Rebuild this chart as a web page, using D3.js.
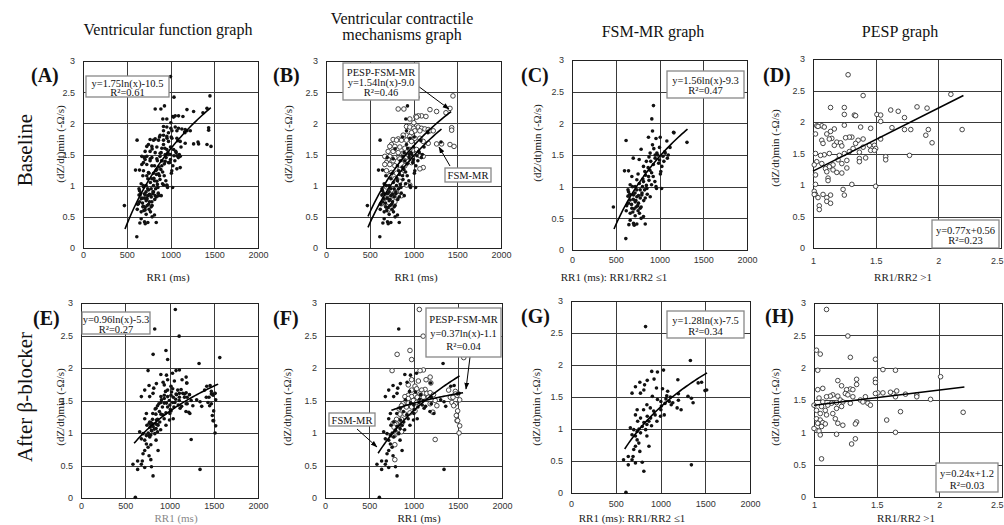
<!DOCTYPE html>
<html><head><meta charset="utf-8">
<script src="https://cdn.jsdelivr.net/npm/d3@7"></script>
<style>body{margin:0;background:#fff}svg{display:block}</style>
</head><body><svg id="c" width="1004" height="525"></svg>
<script>
// ---------------- DATA ----------------
const rr1Ticks = [0, 500, 1000, 1500, 2000];
const ratioTicks = [1, 1.5, 2, 2.5];
const dzTicks = [0, 0.5, 1, 1.5, 2, 2.5, 3];
const colTitles = ["Ventricular function graph", "Ventricular contractile|mechanisms graph", "FSM-MR graph", "PESP graph"];
const rowTitles = ["Baseline", "After β-blocker"];
const yLabel = "(dZ/dt)min (-Ω/s)";

// Baseline, FSM-MR beats (RR1/RR2 <= 1): [RR1 ms, (dZ/dt)min]
const baseFsm = [[931,2.28],[912,2.07],[618,1.73],[920,1.88],[874,1.78],[1008,1.78],[1161,1.86],[1314,1.70],[1084,1.72],[790,1.59],[920,1.66],[1000,1.62],[893,1.53],[950,1.50],[970,1.53],[1065,1.53],[1027,1.32],[1015,1.24],[990,1.37],[768,1.43],[817,1.32],[646,1.25],[832,1.24],[890,1.26],[928,1.16],[947,1.08],[909,1.03],[1024,0.97],[966,0.97],[684,1.16],[741,1.11],[817,1.08],[875,1.16],[665,1.03],[722,1.00],[779,0.95],[856,0.97],[646,0.92],[703,0.87],[741,0.84],[798,0.87],[894,0.84],[665,0.79],[722,0.76],[760,0.74],[837,0.82],[473,0.68],[646,0.74],[684,0.66],[733,0.68],[779,0.66],[665,0.58],[722,0.54],[771,0.58],[817,0.53],[703,0.42],[741,0.41],[837,0.41],[615,0.18],[711,0.39],[620,0.62],[640,0.95],[660,0.88],[680,0.72],[690,1.00],[700,0.80],[710,0.65],[720,0.90],[730,0.78],[740,0.95],[750,0.70],[760,0.86],[770,1.05],[780,0.82],[790,0.68],[800,0.90],[810,1.12],[820,0.78],[830,0.95],[840,1.18],[850,1.02],[860,0.88],[870,1.30],[880,1.10],[900,1.40],[910,1.22],[930,1.35],[950,1.45],[960,1.00],[980,1.50],[1000,1.42],[1040,1.48],[1060,1.55],[1100,1.50],[1120,1.62],[1050,1.40],[1010,1.20],[600,1.25],[625,0.70],[650,0.40],[665,0.47],[695,0.60],[755,0.62],[790,0.50],[700,1.45],[640,0.85],[755,1.20],[805,1.00],[850,1.40],[880,1.47],[935,1.60],[960,1.76],[1090,1.45],[1165,1.85]];

// Baseline, PESP beats (RR1/RR2 > 1): [RR1 ms, RR1/RR2, (dZ/dt)min]
const basePesp = [[1000,1.28,2.75],[1451,2.10,2.44],[1040,1.40,2.42],[1417,1.83,2.24],[825,1.14,2.23],[890,1.25,2.23],[1188,1.91,2.22],[1264,1.62,2.19],[1371,1.68,2.17],[1092,1.51,2.12],[1054,1.25,2.12],[1027,1.33,2.11],[1142,1.54,2.11],[1035,1.34,2.10],[958,1.73,2.07],[1004,1.54,2.01],[920,1.25,1.95],[958,1.07,1.94],[1054,1.03,1.94],[1436,1.04,1.93],[1092,1.09,1.92],[1004,1.38,1.92],[1130,1.63,1.91],[1168,1.46,1.90],[1436,1.17,1.89],[1188,1.73,1.88],[1226,1.78,1.88],[1016,1.92,1.88],[1073,2.19,1.88],[977,1.14,1.85],[920,1.02,1.81],[882,1.11,1.81],[958,1.90,1.79],[1016,1.31,1.76],[1073,1.29,1.76],[825,1.26,1.75],[767,1.15,1.74],[806,1.13,1.73],[863,1.40,1.73],[920,1.54,1.73],[977,1.07,1.71],[1111,1.36,1.71],[1168,1.19,1.68],[1264,1.22,1.67],[1321,1.95,1.67],[748,1.08,1.66],[1417,1.34,1.66],[1463,1.17,1.63],[729,1.45,1.63],[787,1.49,1.63],[844,1.23,1.62],[901,1.40,1.60],[958,1.50,1.58],[1035,1.32,1.58],[710,1.46,1.55],[767,1.49,1.55],[825,1.29,1.53],[882,1.37,1.52],[939,1.25,1.50],[977,1.13,1.50],[1000,1.02,1.50],[1073,1.09,1.48],[672,1.21,1.47],[1111,1.06,1.47],[729,1.77,1.47],[787,1.58,1.45],[844,1.42,1.43],[710,1.37,1.42],[767,1.20,1.40],[901,1.58,1.40],[939,1.27,1.39],[691,1.03,1.37],[977,1.37,1.37],[672,1.07,1.34],[729,1.23,1.34],[787,1.01,1.32],[901,1.16,1.32],[1111,1.13,1.29],[1073,1.27,1.27],[844,1.10,1.26],[691,1.16,1.24],[748,1.11,1.21],[806,1.19,1.20],[863,1.23,1.19],[729,1.02,1.16],[787,1.12,1.11],[844,1.12,1.07],[958,1.02,1.01],[920,1.31,1.01],[691,1.50,0.98],[748,1.24,0.93],[806,1.01,0.90],[863,1.25,0.84],[653,1.02,0.85],[710,1.01,0.85],[767,1.08,0.85],[825,1.14,0.84],[672,1.04,0.80],[729,1.11,0.80],[787,1.11,0.74],[634,1.14,0.71],[691,1.05,0.67],[710,1.05,0.61]];

// After beta-blocker, FSM-MR beats: [RR1 ms, (dZ/dt)min]
const betaFsm = [[833,2.60],[1334,2.07],[902,1.90],[966,1.89],[1034,1.92],[928,1.78],[852,1.76],[769,1.73],[822,1.69],[720,1.66],[682,1.56],[776,1.56],[814,1.61],[1194,1.77],[1080,1.59],[1023,1.63],[955,1.64],[909,1.51],[966,1.46],[1004,1.43],[1061,1.47],[1099,1.43],[1137,1.41],[1186,1.33],[1307,1.51],[1345,1.48],[1421,1.72],[1459,1.73],[1497,1.60],[1516,1.61],[1364,1.41],[848,1.38],[886,1.33],[811,1.30],[739,1.30],[924,1.28],[1004,1.30],[1042,1.22],[852,1.20],[890,1.17],[777,1.17],[815,1.10],[848,1.07],[720,1.22],[663,1.02],[701,0.99],[739,0.96],[777,0.94],[796,1.04],[834,0.99],[720,0.89],[739,0.83],[758,0.78],[720,0.73],[701,0.68],[769,0.65],[848,0.89],[871,0.73],[587,0.52],[640,0.57],[682,0.52],[720,0.47],[796,0.48],[640,0.44],[814,0.34],[1345,0.44],[614,0.01],[682,0.91],[693,0.57],[1050,1.40],[1070,1.52],[1010,1.36],[940,1.22],[870,1.12],[760,1.00],[745,1.12],[1000,1.20],[1110,1.50],[1200,1.55],[1230,1.30],[1120,1.38],[960,1.12],[900,1.05],[1200,1.45]];

// After beta-blocker, PESP beats: [RR1 ms, RR1/RR2, (dZ/dt)min]
const betaPesp = [[1066,1.10,2.90],[1109,1.27,2.49],[960,1.02,2.27],[815,1.05,2.21],[1568,1.29,2.16],[979,1.49,2.13],[1188,2.01,1.86],[758,1.03,1.96],[1112,1.55,1.97],[1074,1.65,1.96],[1142,1.49,1.82],[979,1.34,1.82],[1055,1.19,1.80],[1196,1.49,1.77],[941,1.34,1.74],[1017,1.22,1.72],[1036,1.07,1.68],[1131,1.29,1.67],[979,1.03,1.66],[1093,1.26,1.66],[1397,1.31,1.66],[1473,1.66,1.64],[1169,1.63,1.60],[1112,1.55,1.61],[1150,1.51,1.61],[1188,1.61,1.62],[1473,1.49,1.60],[1074,1.25,1.60],[1226,1.73,1.59],[1017,1.82,1.58],[941,1.27,1.58],[1492,1.15,1.58],[979,1.19,1.56],[903,1.13,1.56],[1416,1.31,1.55],[1043,1.41,1.55],[1112,1.10,1.55],[1169,1.65,1.55],[1446,1.82,1.55],[941,1.04,1.53],[1522,1.93,1.51],[1245,1.21,1.50],[998,1.37,1.50],[903,1.07,1.47],[1036,1.23,1.47],[1435,1.39,1.47],[941,1.18,1.46],[1188,1.14,1.45],[880,1.29,1.45],[1473,1.43,1.45],[1264,1.11,1.42],[1454,1.45,1.42],[865,1.00,1.42],[979,1.22,1.40],[920,1.06,1.40],[838,1.18,1.37],[1017,1.02,1.34],[1499,1.09,1.34],[1218,1.69,1.32],[960,2.19,1.31],[903,1.15,1.29],[846,1.05,1.29],[1484,1.10,1.27],[808,1.02,1.21],[865,1.17,1.21],[1492,1.05,1.19],[1499,1.58,1.19],[789,1.34,1.16],[770,1.07,1.15],[846,1.19,1.14],[808,1.03,1.14],[865,1.33,1.13],[789,1.09,1.13],[1522,1.23,1.11],[780,1.06,1.09],[800,1.02,1.03],[865,1.04,1.02],[830,1.00,1.06],[1515,1.65,1.00],[789,1.18,0.97],[770,1.05,0.96],[1245,1.33,0.90],[789,1.30,0.82],[789,1.06,0.59]];

// Regression fits y = a*ln(x) + b over [xStart, xEnd]
const fitBaseAll  = [1.75, -10.5, 480, 1460];
const fitBaseFsm  = [1.56, -9.3, 480, 1320];
const fitBasePesp = [1.54, -9.0, 480, 1430];
const fitBetaAll  = [0.96, -5.3, 600, 1550];
const fitBetaFsm  = [1.28, -7.5, 600, 1520];
const fitBetaPesp = [0.37, -1.1, 750, 1560];
// Linear fits (PESP graphs), endpoints as drawn
const lineBasePesp = [[1.0, 1.22], [2.2, 2.42]];
const lineBetaPesp = [[1.0, 1.42], [2.2, 1.70]];

// ---------------- DRAW ----------------
const svg = d3.select('#c');
const serif = "'Liberation Serif','Times New Roman',serif";
const sans = "'Liberation Sans',Arial,sans-serif";

svg.append('defs').append('marker').attr('id','ah').attr('viewBox','0 0 10 10')
  .attr('refX',9).attr('refY',5).attr('markerWidth',7).attr('markerHeight',7)
  .attr('orient','auto').append('path').attr('d','M0,1.5 L10,5 L0,8.5 Z').attr('fill','#000');

const rr = d => [d[0], d[d.length-1]];
const ratio = d => [d[1], d[2]];
const px = v => Math.round(v) + 0.5;

function logCurve(f) {
  const n = 40;
  return d3.range(n+1).map(i => { const v = f[2] + (f[3]-f[2])*i/n; return [v, f[0]*Math.log(v)+f[1]]; });
}

const panels = [
 {L:83,R:258,T:61,B:248, xd:[0,2000], xt:rr1Ticks, letter:'(A)', lx:31, ly:82, ylx:60, yly:144, tOff:10,
  xlab:'RR1 (ms)', xlx:168, xly:281, filled: baseFsm.concat(basePesp.map(rr)), open:[],
  fits:[logCurve(fitBaseAll)],
  boxes:[{x:86,y:76,w:83,h:21,lines:['y=1.75ln(x)-10.5','R²=0.61'],ty:[86.5,95.5]}], arrows:[]},
 {L:326,R:501,T:61,B:248, xd:[0,2000], xt:rr1Ticks, letter:'(B)', lx:273, ly:82, ylx:288, yly:144, tOff:10,
  xlab:'RR1 (ms)', xlx:416, xly:281, filled: baseFsm, open: basePesp.map(rr),
  fits:[logCurve(fitBaseFsm), logCurve(fitBasePesp)],
  boxes:[{x:343,y:63,w:76,h:37,lines:['PESP-FSM-MR','y=1.54ln(x)-9.0','R²=0.46'],ty:[76,86,96]},
         {x:445,y:168,w:46,h:14,lines:['FSM-MR'],ty:[179]}],
  arrows:[[418,86,449,109],[450,166,439,147]]},
 {L:572,R:747,T:60,B:250, xd:[0,2000], xt:rr1Ticks, letter:'(C)', lx:521, ly:82, ylx:537, yly:143, tOff:13,
  xlab:'RR1 (ms): RR1/RR2 ≤1', xlx:614, xly:281, filled: baseFsm, open:[],
  fits:[logCurve(fitBaseFsm)],
  boxes:[{x:667,y:71,w:77,h:27,lines:['y=1.56ln(x)-9.3','R²=0.47'],ty:[83.5,94]}], arrows:[]},
 {L:813,R:1001,T:59,B:248, xd:[1,2.5], xt:ratioTicks, letter:'(D)', lx:763, ly:82, ylx:775, yly:148, tOff:16,
  xlab:'RR1/RR2 >1', xlx:903, xly:281, filled:[], open: basePesp.map(ratio),
  fits:[lineBasePesp],
  boxes:[{x:932,y:220,w:67,h:28,lines:['y=0.77x+0.56','R²=0.23'],ty:[233.5,243.5]}], arrows:[]},
 {L:81,R:258,T:303,B:498, xd:[0,2000], xt:rr1Ticks, letter:'(E)', lx:33, ly:325, ylx:60, yly:407, tOff:11,
  xlab:'RR1 (ms)', xlx:176, xly:522, xcol:'#888', filled: betaFsm.concat(betaPesp.map(rr)), open:[],
  fits:[logCurve(fitBetaAll)],
  boxes:[{x:82,y:312,w:68,h:22,lines:['y=0.96ln(x)-5.3','R²=0.27'],ty:[323,332.5]}], arrows:[]},
 {L:325,R:502,T:303,B:498, xd:[0,2000], xt:rr1Ticks, letter:'(F)', lx:273, ly:325, ylx:287, yly:407, tOff:11,
  xlab:'RR1 (ms)', xlx:419, xly:522, filled: betaFsm, open: betaPesp.map(rr),
  fits:[logCurve(fitBetaFsm), logCurve(fitBetaPesp)],
  boxes:[{x:426,y:308,w:75,h:49,lines:['PESP-FSM-MR','y=0.37ln(x)-1.1','R²=0.04'],ty:[323,337,350]},
         {x:329,y:413,w:46,h:13,lines:['FSM-MR'],ty:[423.5]}],
  arrows:[[470,357,466,389],[357,429,377,447]]},
 {L:571,R:750,T:301,B:493, xd:[0,2000], xt:rr1Ticks, letter:'(G)', lx:521, ly:323, ylx:536, yly:407, tOff:14,
  xlab:'RR1 (ms): RR1/RR2 ≤1', xlx:632, xly:522, filled: betaFsm, open:[],
  fits:[logCurve(fitBetaFsm)],
  boxes:[{x:667,y:311,w:77,h:27,lines:['y=1.28ln(x)-7.5','R²=0.34'],ty:[323.5,334.5]}], arrows:[]},
 {L:814,R:1002,T:303,B:497, xd:[1,2.5], xt:ratioTicks, letter:'(H)', lx:765, ly:323, ylx:775, yly:407, tOff:11,
  xlab:'RR1/RR2 >1', xlx:906, xly:522, filled:[], open: betaPesp.map(ratio),
  fits:[lineBetaPesp],
  boxes:[{x:936,y:463,w:62,h:29,lines:['y=0.24x+1.2','R²=0.03'],ty:[477,488.5]}], arrows:[]}
];

panels.forEach(p => {
  const x = d3.scaleLinear().domain(p.xd).range([p.L, p.R]);
  const y = d3.scaleLinear().domain([0, 3]).range([p.B, p.T]);
  const g = svg.append('g');
  // grid
  g.selectAll('.vg').data(p.xt.filter(v => v > p.xd[0] && v < p.xd[1])).join('line')
    .attr('x1', d => px(x(d))).attr('x2', d => px(x(d))).attr('y1', p.T).attr('y2', p.B)
    .attr('stroke', '#3a3a3a').attr('stroke-width', 1).attr('shape-rendering', 'crispEdges');
  g.selectAll('.hg').data(dzTicks.filter(v => v > 0 && v < 3)).join('line')
    .attr('x1', p.L).attr('x2', p.R).attr('y1', d => px(y(d))).attr('y2', d => px(y(d)))
    .attr('stroke', '#3a3a3a').attr('stroke-width', 1).attr('shape-rendering', 'crispEdges');
  g.append('rect').attr('x', px(p.L)).attr('y', px(p.T)).attr('width', Math.round(p.R - p.L)).attr('height', Math.round(p.B - p.T))
    .attr('fill', 'none').attr('stroke', '#222').attr('stroke-width', 1).attr('shape-rendering', 'crispEdges');

  // axes (labels only)
  const ax = g.append('g').attr('transform', `translate(0,${p.B + p.tOff - 9})`)
    .call(d3.axisBottom(x).tickValues(p.xt).tickSize(0).tickPadding(3).tickFormat(d => String(d)));
  const ay = g.append('g').attr('transform', `translate(${p.L},0)`)
    .call(d3.axisLeft(y).tickValues(dzTicks).tickSize(0).tickPadding(8).tickFormat(d => String(d)));
  [ax, ay].forEach(a => {
    a.select('.domain').remove();
    a.selectAll('text').attr('font-family', sans).attr('font-size', 9).attr('fill', '#333');
  });
  // keep a label that would sit on the window edge fully inside it
  ax.selectAll('.tick').filter(d => x(d) > 995).select('text')
    .attr('text-anchor', 'end').attr('x', 1003 - x(p.xd[1]));

  // points
  g.selectAll('.op').data(p.open).join('circle')
    .attr('cx', d => x(d[0])).attr('cy', d => y(d[1])).attr('r', 2.3)
    .attr('fill', '#fff').attr('stroke', '#333').attr('stroke-width', 0.9);
  g.selectAll('.fp').data(p.filled).join('circle')
    .attr('cx', d => x(d[0])).attr('cy', d => y(d[1])).attr('r', 1.8).attr('fill', '#111');

  // fits
  const line = d3.line().x(d => x(d[0])).y(d => y(d[1]));
  p.fits.forEach(f => g.append('path').attr('d', line(f)).attr('fill', 'none')
    .attr('stroke', '#000').attr('stroke-width', 1.6));

  // arrows
  p.arrows.forEach(a => g.append('line').attr('x1', a[0]).attr('y1', a[1]).attr('x2', a[2]).attr('y2', a[3])
    .attr('stroke', '#000').attr('stroke-width', 1).attr('marker-end', 'url(#ah)'));

  // boxes
  p.boxes.forEach(b => {
    g.append('rect').attr('x', b.x).attr('y', b.y).attr('width', b.w).attr('height', b.h)
      .attr('fill', '#fff').attr('stroke', '#888').attr('stroke-width', 1.3);
    b.lines.forEach((t, i) => g.append('text').attr('x', b.x + b.w / 2).attr('y', b.ty[i])
      .attr('text-anchor', 'middle').attr('font-family', serif).attr('font-size', 10.5).attr('fill', '#111').text(t));
  });

  // letter
  g.append('text').attr('x', p.lx).attr('y', p.ly).attr('font-family', serif).attr('font-weight', 'bold')
    .attr('font-size', 20).attr('fill', '#111').text(p.letter);
  // y label
  g.append('text').attr('transform', `translate(${p.ylx},${p.yly}) rotate(-90)`)
    .attr('text-anchor', 'middle').attr('dominant-baseline', 'central')
    .attr('font-family', serif).attr('font-size', 11).attr('fill', '#222').text(yLabel);
  // x label
  g.append('text').attr('x', p.xlx).attr('y', p.xly).attr('text-anchor', 'middle')
    .attr('font-family', serif).attr('font-size', 11).attr('fill', p.xcol || '#222').text(p.xlab);
});

// column titles
const titlePos = [[168, [35]], [402, [24, 40]], [653, [37]], [900, [37]]];
colTitles.forEach((t, i) => {
  t.split('|').forEach((s, j) => svg.append('text').attr('x', titlePos[i][0]).attr('y', titlePos[i][1][j])
    .attr('text-anchor', 'middle').attr('font-family', serif).attr('font-size', 16).attr('fill', '#111').text(s));
});
// row titles
[[25, 150], [25, 397]].forEach((pos, i) => svg.append('text')
  .attr('transform', `translate(${pos[0]},${pos[1]}) rotate(-90)`).attr('text-anchor', 'middle')
  .attr('dominant-baseline', 'central').attr('font-family', serif).attr('font-size', 21).attr('fill', '#111')
  .text(rowTitles[i]));
</script></body></html>
